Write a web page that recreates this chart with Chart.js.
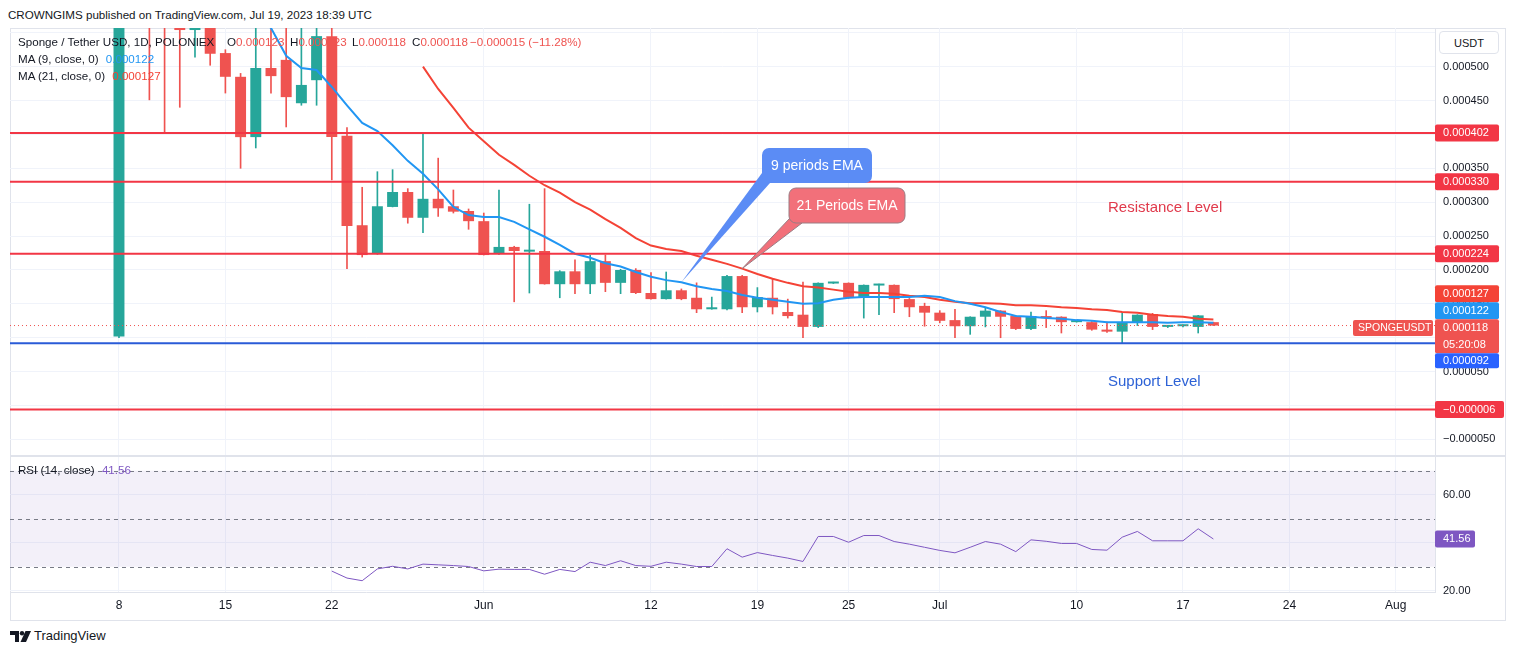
<!DOCTYPE html>
<html>
<head>
<meta charset="utf-8">
<script src="https://cdn.jsdelivr.net/npm/chart.js@4.4.0/dist/chart.umd.min.js"></script>
<style>
  body { margin: 0; width: 1515px; height: 655px; background: #fff; position: relative; overflow: hidden;
         font-family: "Liberation Sans", Arial, sans-serif; color: #131722; }
  .abs { position: absolute; white-space: nowrap; }
  #frame { position: absolute; left: 10px; top: 28px; width: 1494px; height: 591px; border: 1px solid #e0e3eb; }
  #sep { position: absolute; left: 10px; top: 455px; width: 1495px; height: 2px; background: #e0e3eb; }
  .t12 { font-size: 11.6px; line-height: 14px; }
  .red { color: #ef5350; }
  .blue { color: #2196f3; }
  .ma21 { color: #f44336; }
  .purple { color: #7e57c2; }
  #usdt { position: absolute; left: 1439px; top: 31px; width: 60px; height: 23px; border: 1px solid #e0e3eb; border-radius: 4px;
          font-size: 11px; line-height: 23px; text-align: center; background: #fff; box-sizing: border-box; }
</style>
</head>
<body>
<div id="frame"></div>
<canvas id="main" width="1495" height="427" style="position:absolute;left:10px;top:28px"></canvas>
<canvas id="rsi" width="1495" height="165" style="position:absolute;left:10px;top:455px"></canvas>
<div id="sep"></div>
<div id="usdt">USDT</div>

<div class="abs t12" style="left:8px;top:8px">CROWNGIMS published on TradingView.com, Jul 19, 2023 18:39 UTC</div>
<div class="abs t12" style="left:18px;top:35px">Sponge / Tether USD, 1D, POLONIEX</div>
<div class="abs t12" style="left:227px;top:35px">O<span class="red">0.000123</span></div>
<div class="abs t12" style="left:290px;top:35px">H<span class="red">0.000123</span></div>
<div class="abs t12" style="left:352px;top:35px">L<span class="red">0.000118</span></div>
<div class="abs t12" style="left:412px;top:35px">C<span class="red">0.000118</span></div>
<div class="abs t12 red" style="left:470px;top:35px">&minus;0.000015 (&minus;11.28%)</div>
<div class="abs t12" style="left:18px;top:52px">MA (9, close, 0) <span class="blue" style="margin-left:4px">0.000122</span></div>
<div class="abs t12" style="left:18px;top:69px">MA (21, close, 0) <span class="ma21" style="margin-left:4px">0.000127</span></div>
<div class="abs t12" style="left:18px;top:463px">RSI (14, close) <span class="purple" style="margin-left:4px">41.56</span></div>

<div class="abs" style="left:10px;top:631px;height:12px">
  <svg width="22" height="11" viewBox="0 0 22 11" style="position:absolute;left:0;top:0">
    <path d="M0 0 H9 V11 H5 V4 H0 Z" fill="#131722"/>
    <circle cx="12" cy="2.2" r="2.2" fill="#131722"/>
    <path d="M15.5 0 H21 L16 11 H10.5 Z" fill="#131722"/>
  </svg>
  <span style="position:absolute;left:24px;top:-2px;font-size:13px;line-height:14px">TradingView</span>
</div>

<script>
// prices are in millionths of USDT (402 = 0.000402); day 0 = May 8, 2023
const opens  = [102, 640, 600, 585, 559, 554, 559, 520, 485, 396, 498, 510, 446, 480, 545, 398, 266, 224, 293, 315,
                277, 305, 294, 287, 272, 224, 234, 227, 228, 179, 198, 179, 213, 181, 200, 166, 157, 170, 159, 142,
                142, 191, 145, 159, 138, 134, 116, 180, 181, 159, 177, 178, 157, 147, 137, 126, 117, 131, 140, 132,
                113, 132, 131, 123, 123, 112, 109, 123, 135, 116, 117, 116, 123];
const highs  = [620, 680, 620, 600, 600, 600, 580, 525, 490, 570, 570, 570, 570, 570, 570, 410, 322, 345, 348, 320,
                402, 365, 318, 290, 284, 318, 235, 297, 320, 199, 215, 222, 222, 201, 202, 196, 197, 172, 181, 160,
                192, 192, 174, 187, 157, 182, 181, 182, 181, 178, 179, 178, 158, 151, 140, 142, 131, 145, 140, 133,
                138, 140, 131, 125, 124, 123, 137, 134, 136, 118, 119, 133, 123];
const lows   = [100, 600, 451, 402, 440, 514, 502, 461, 350, 380, 461, 411, 443, 443, 333, 202, 219, 223, 293, 269,
                255, 279, 284, 260, 222, 223, 153, 166, 179, 159, 165, 165, 168, 165, 165, 157, 157, 156, 137, 142,
                141, 137, 138, 135, 129, 100, 115, 180, 158, 129, 134, 137, 131, 117, 122, 100, 105, 116, 100, 112,
                112, 115, 107, 123, 111, 108, 92, 118, 112, 115, 116, 107, 118];
const closes = [610, 620, 590, 570, 554, 559, 519, 485, 396, 498, 486, 455, 473, 545, 396, 265, 222, 294, 315, 277,
                305, 291, 286, 272, 222, 234, 228, 229, 179, 198, 179, 213, 181, 200, 166, 157, 170, 157, 142, 143,
                191, 145, 160, 145, 132, 116, 181, 181, 159, 178, 178, 157, 145, 137, 125, 117, 131, 140, 131, 113,
                132, 129, 123, 124, 112, 109, 123, 134, 116, 117, 118, 133, 118];

const ma9Start = 8;
const ma9 = [600, 575, 557, 516, 498, 495, 470, 443, 417, 405, 384, 361, 342, 319, 293, 281, 278, 278, 271, 260,
             249, 237, 224, 218, 210, 205, 197, 190, 185, 182, 176, 172, 169, 163, 159, 156, 153, 150, 151, 156,
             159, 160, 160, 160, 160, 162, 160, 154, 150, 145, 138, 132, 131, 129, 128, 126, 125, 123, 123, 123,
             123, 122, 123, 123, 122];

const ma21Start = 20;
const ma21 = [500, 467, 439, 410, 390, 370, 355, 339, 325, 314, 300, 289, 275, 262, 247, 236, 231, 228, 221, 215,
              209, 202, 194, 187, 181, 176, 174, 171, 168, 166, 166, 165, 162, 160, 156, 153, 151, 151, 150, 148,
              148, 147, 145, 144, 142, 141, 138, 137, 134, 132, 131, 128, 127];

const rsiStart = 14;
const rsi = [28.2, 25.3, 24.2, 29.1, 30.2, 29.1, 31.1, 30.8, 30.5, 30.1, 28.3, 29.0, 28.9, 28.9, 26.9, 28.9, 28.0,
             31.9, 30.5, 32.5, 30.5, 30.2, 31.9, 31.1, 30.1, 30.1, 37.5, 34.0, 35.9, 34.7, 33.6, 32.2, 42.6, 42.6,
             40.2, 43.0, 43.0, 40.5, 39.4, 38.1, 36.8, 35.8, 38.1, 40.5, 39.4, 36.3, 41.2, 40.6, 39.7, 39.7, 37.2,
             36.9, 42.3, 44.7, 40.8, 40.8, 40.8, 45.8, 41.56];

const resistanceLevels = [402, 330, 224, -6];
const supportLevel = 92;
const lastPrice = 118;
const countdown = '05:20:08';

const tickDays   = [0, 7, 14, 24, 35, 42, 48, 54, 63, 70, 77, 84];
const tickLabels = ['8', '15', '22', 'Jun', '12', '19', '25', 'Jul', '10', '17', '24', 'Aug'];

const X_MIN = -7.17, X_MAX = 86.58;
const P_MIN = -73, P_MAX = 557;

const FONT = '"Liberation Sans", Arial, sans-serif';
const GRID = '#f0f3fa';
const EDGE = '#e0e3eb';
const UP = '#26a69a', DOWN = '#ef5350';
const LEVEL_RED = '#f23645';

Chart.defaults.font.family = FONT;
Chart.defaults.color = '#131722';

const fmtPrice = v => (v < 0 ? '\u2212' : '') + (Math.abs(v) / 1e6).toFixed(6);
const candleColors = opens.map((o, i) => closes[i] >= o ? UP : DOWN);
const hline = v => [{ x: X_MIN, y: v }, { x: X_MAX, y: v }];

function dayTicks(scale) {
    scale.ticks = tickDays.map(v => ({ value: v }));
}
function noPad(scale) {
    scale.paddingTop = 0; scale.paddingBottom = 0;
    scale.paddingLeft = 0; scale.paddingRight = 0;
}

function tagBox(ctx, x, top, w, h, bg, lines, pad) {
    ctx.fillStyle = bg;
    ctx.beginPath();
    ctx.roundRect(x, top, w, h, 2);
    ctx.fill();
    ctx.fillStyle = '#fff';
    ctx.textAlign = 'left';
    ctx.textBaseline = 'middle';
    const step = h / lines.length;
    lines.forEach((t, i) => ctx.fillText(t, x + (pad || 8), top + step * (i + 0.5)));
}

function callout(ctx, box, tail, tip, fill, stroke, text) {
    ctx.save();
    ctx.fillStyle = fill;
    ctx.beginPath();
    ctx.moveTo(tail[0][0], tail[0][1]);
    ctx.lineTo(tip[0], tip[1]);
    ctx.lineTo(tail[1][0], tail[1][1]);
    ctx.closePath();
    ctx.fill();
    if (stroke) {
        ctx.strokeStyle = stroke;
        ctx.lineWidth = 1;
        ctx.stroke();
    }
    ctx.beginPath();
    ctx.roundRect(box[0], box[1], box[2] - box[0], box[3] - box[1], 7);
    ctx.fill();
    if (stroke) ctx.stroke();
    ctx.fillStyle = '#fff';
    ctx.font = '14px ' + FONT;
    ctx.textAlign = 'center';
    ctx.textBaseline = 'middle';
    ctx.fillText(text, (box[0] + box[2]) / 2, (box[1] + box[3]) / 2 + 1);
    ctx.restore();
}

const mainOverlay = {
    id: 'mainOverlay',
    afterDatasetsDraw(chart) {
        const { ctx, scales: { x, y } } = chart;
        const d9 = 37, d21 = 41;
        callout(ctx, [752, 120, 862, 155], [[752, 145], [760, 155]],
            [x.getPixelForValue(d9), y.getPixelForValue(ma9[d9 - ma9Start])], '#5b8cf5', null, '9 periods EMA');
        callout(ctx, [779, 160, 895, 195], [[780, 190], [792, 195]],
            [x.getPixelForValue(d21), y.getPixelForValue(ma21[d21 - ma21Start])], '#f2707a', '#9a7c83', '21 Periods EMA');

        ctx.save();
        ctx.font = '15px ' + FONT;
        ctx.textAlign = 'left';
        ctx.textBaseline = 'middle';
        ctx.fillStyle = '#e03a4c';
        ctx.fillText('Resistance Level', 1098, 180);
        ctx.fillStyle = '#2d62d6';
        ctx.fillText('Support Level', 1098, 354);
        ctx.restore();
    },
    afterDraw(chart) {
        const { ctx, scales: { y } } = chart;
        const x0 = chart.chartArea.right;
        ctx.save();
        ctx.font = '11px ' + FONT;
        resistanceLevels.forEach(v =>
            tagBox(ctx, x0, y.getPixelForValue(v) - 8.5, v < 0 ? 69 : 64, 17, LEVEL_RED, [fmtPrice(v)]));
        const py = y.getPixelForValue(lastPrice) - 6.3;
        tagBox(ctx, x0, py - 34, 64, 17, '#f44336', [fmtPrice(ma21[ma21.length - 1])]);
        tagBox(ctx, x0, py - 17, 64, 17, '#2196f3', [fmtPrice(ma9[ma9.length - 1])]);
        tagBox(ctx, x0, py, 64, 34, '#ef5350', [fmtPrice(lastPrice), countdown]);
        tagBox(ctx, x0, py + 34, 64, 15, '#2962ff', [fmtPrice(supportLevel)]);
        ctx.font = '10.5px ' + FONT;
        tagBox(ctx, x0 - 82, py + 0.7, 80, 16, '#ef5350', ['SPONGEUSDT'], 5);
        ctx.restore();
    }
};

// Main price pane
new Chart(document.getElementById('main'), {
    type: 'bar',
    data: {
        datasets: [
            ...resistanceLevels.map(v => ({
                type: 'line', data: hline(v), borderColor: LEVEL_RED, borderWidth: 2,
                pointRadius: 0, order: 1
            })),
            {
                type: 'line', data: hline(supportLevel), borderColor: '#2a5bd7', borderWidth: 2,
                pointRadius: 0, order: 1
            },
            {
                type: 'line', data: hline(lastPrice), borderColor: '#ef5350', borderWidth: 1,
                borderDash: [1, 3], pointRadius: 0, order: 2
            },
            {
                type: 'line', data: ma9.map((v, i) => ({ x: ma9Start + i, y: v })),
                borderColor: '#2196f3', borderWidth: 2, pointRadius: 0, order: 3
            },
            {
                type: 'line', data: ma21.map((v, i) => ({ x: ma21Start + i, y: v })),
                borderColor: '#f44336', borderWidth: 2, pointRadius: 0, order: 3
            },
            {
                data: opens.map((o, i) => ({ x: i, y: [o, closes[i]] })),
                backgroundColor: candleColors, grouped: false, minBarLength: 2,
                categoryPercentage: 0.8, barPercentage: 0.9, order: 4, clip: 0
            },
            {
                data: opens.map((o, i) => ({ x: i, y: [lows[i], highs[i]] })),
                backgroundColor: candleColors, grouped: false, barThickness: 1, order: 5, clip: 0
            }
        ]
    },
    options: {
        responsive: false,
        animation: false,
        layout: { padding: 0 },
        plugins: { legend: { display: false }, tooltip: { enabled: false } },
        scales: {
            x: {
                type: 'linear', min: X_MIN, max: X_MAX, offset: false,
                afterBuildTicks: dayTicks,
                afterFit: s => { s.height = 0; noPad(s); },
                ticks: { display: false, autoSkip: false },
                grid: { color: GRID, drawTicks: false, offset: false },
                border: { display: false }
            },
            y: {
                position: 'right', min: P_MIN, max: P_MAX,
                afterFit: s => { s.width = 70; noPad(s); },
                ticks: {
                    stepSize: 50, includeBounds: false, padding: 8,
                    font: { size: 11 }, color: '#131722',
                    callback: v => v > 500 ? '' : fmtPrice(v)
                },
                grid: { color: GRID, drawTicks: false },
                border: { display: true, color: EDGE }
            }
        }
    },
    plugins: [mainOverlay]
});

const rsiOverlay = {
    id: 'rsiOverlay',
    beforeDatasetsDraw(chart) {
        const { ctx, chartArea: a, scales: { y } } = chart;
        ctx.save();
        ctx.fillStyle = 'rgba(126, 87, 194, 0.09)';
        const top = y.getPixelForValue(70), bot = y.getPixelForValue(30);
        ctx.fillRect(a.left, top, a.right - a.left, bot - top);
        ctx.strokeStyle = '#787b86';
        ctx.lineWidth = 1;
        ctx.setLineDash([4, 4]);
        [70, 50, 30].forEach(v => {
            const py = Math.round(y.getPixelForValue(v)) + 0.5;
            ctx.beginPath();
            ctx.moveTo(a.left, py);
            ctx.lineTo(a.right, py);
            ctx.stroke();
        });
        ctx.restore();
    },
    afterDraw(chart) {
        const { ctx, chartArea: a, scales: { y } } = chart;
        const last = rsi[rsi.length - 1];
        ctx.save();
        ctx.font = '11px ' + FONT;
        tagBox(ctx, a.right, y.getPixelForValue(last) - 8.5, 40, 17, '#7e57c2', [last.toFixed(2)]);
        ctx.restore();
    }
};

// RSI pane with the shared date axis
new Chart(document.getElementById('rsi'), {
    type: 'line',
    data: {
        datasets: [{
            data: rsi.map((v, i) => ({ x: rsiStart + i, y: v })),
            borderColor: '#7e57c2', borderWidth: 1, pointRadius: 0, tension: 0
        }]
    },
    options: {
        responsive: false,
        animation: false,
        layout: { padding: 0 },
        plugins: { legend: { display: false }, tooltip: { enabled: false } },
        scales: {
            x: {
                type: 'linear', min: X_MIN, max: X_MAX,
                afterBuildTicks: dayTicks,
                afterFit: s => { s.height = 28; noPad(s); },
                ticks: {
                    autoSkip: false, maxRotation: 0, padding: 6,
                    font: { size: 12 }, color: '#131722',
                    callback: (v, i) => tickLabels[i]
                },
                grid: { color: GRID, drawTicks: false },
                border: { display: true, color: EDGE }
            },
            y: {
                position: 'right', min: 19.5, max: 76.5,
                afterFit: s => { s.width = 70; noPad(s); },
                ticks: {
                    stepSize: 20, includeBounds: false, padding: 8,
                    font: { size: 11 }, color: '#131722',
                    callback: v => v.toFixed(2)
                },
                grid: { color: GRID, drawTicks: false },
                border: { display: true, color: EDGE }
            }
        }
    },
    plugins: [rsiOverlay]
});
</script>
</body>
</html>
